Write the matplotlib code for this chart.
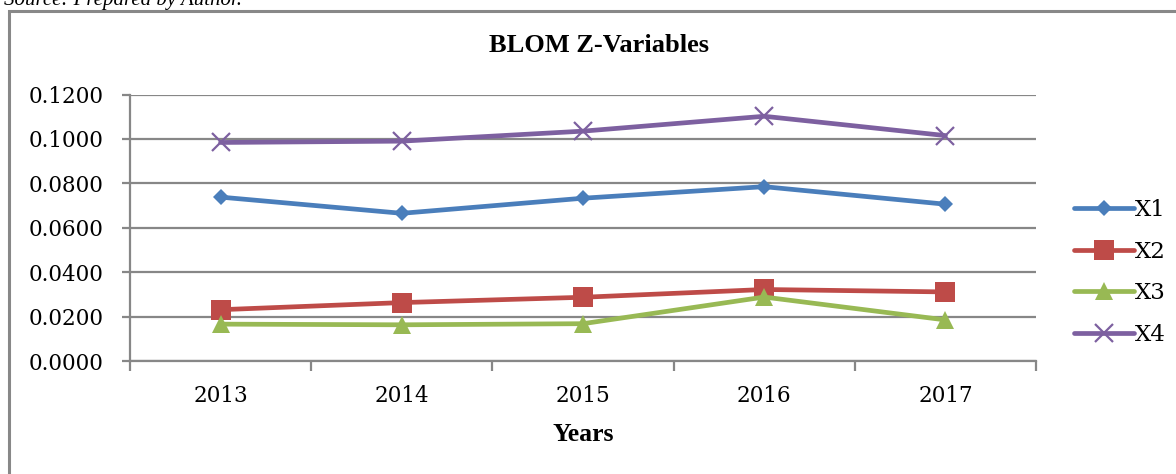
import matplotlib
matplotlib.use("Agg")
import matplotlib.pyplot as plt
from matplotlib.patches import Rectangle
from matplotlib.ticker import FixedLocator, FuncFormatter
import numpy as np

years = ["2013", "2014", "2015", "2016", "2017"]
x1 = [0.0738, 0.0665, 0.0733, 0.0785, 0.0706]
x2 = [0.0231, 0.0263, 0.0287, 0.0322, 0.0311]
x3 = [0.0166, 0.0163, 0.0168, 0.0288, 0.0185]
x4 = [0.0984, 0.0990, 0.1035, 0.1102, 0.1015]
series_names = ["X1", "X2", "X3", "X4"]
y_ticks = [0.0, 0.02, 0.04, 0.06, 0.08, 0.10, 0.12]

colors = ["#4A7EBB", "#BE4B48", "#98B954", "#7D60A0"]
markers = ["D", "s", "^", "x"]
msizes = [8.5, 14, 13, 13]
grid_c = "#878787"

W, H = 1176, 474
fig = plt.figure(figsize=(W / 100, H / 100), dpi=100)
ax = fig.add_axes([130 / W, 1 - 361 / H, (1036 - 130) / W, (361 - 94.5) / H])

xpos = np.arange(len(years))
handles = []
for vals, name, c, m, ms in zip([x1, x2, x3, x4], series_names, colors, markers, msizes):
    mew = 1.6 if m == "x" else 0
    h, = ax.plot(xpos, vals, color=c, lw=3.4, marker=m, markersize=ms,
                 markeredgewidth=mew, markeredgecolor=c, markerfacecolor=c,
                 label=name, solid_capstyle="round", zorder=3)
    handles.append(h)

ax.set_xlim(-0.5, len(years) - 0.5)
ax.set_ylim(0, 0.12)
ax.yaxis.set_major_locator(FixedLocator(y_ticks))
ax.yaxis.set_major_formatter(FuncFormatter(lambda v, p: f"{v:.4f}"))
ax.set_xticks(xpos)
ax.set_xticklabels(years)
ax.xaxis.set_minor_locator(FixedLocator(np.arange(-0.5, len(years), 1.0)))

ax.grid(axis="y", color=grid_c, lw=1.6, zorder=0)
ax.set_axisbelow(True)
for s in ["top", "right"]:
    ax.spines[s].set_visible(False)
for s in ["left", "bottom"]:
    ax.spines[s].set_color(grid_c)
    ax.spines[s].set_linewidth(1.6)

serif = ["DejaVu Serif"]
ax.tick_params(axis="x", which="major", length=0, pad=17, labelsize=15.5)
ax.tick_params(axis="x", which="minor", length=7, width=1.6, color=grid_c)
ax.tick_params(axis="y", length=6, width=1.6, color=grid_c, pad=13, labelsize=15.5)
for lab in ax.get_xticklabels() + ax.get_yticklabels():
    lab.set_family(serif)

ax.set_xlabel("Years", family=["Liberation Serif"], fontweight="bold", fontsize=18.5, labelpad=12)

fig.text(599 / W, 1 - 46 / H, "BLOM Z-Variables", family=["Liberation Serif"],
         fontweight="bold", fontsize=19, ha="center", va="center")

fig.legend(handles=handles, labels=series_names, loc="center left",
           bbox_to_anchor=(1074 / W, 1 - 272.5 / H), frameon=False,
           prop={"family": "DejaVu Serif", "size": 16.5},
           handlelength=2.6, handletextpad=0.05, labelspacing=0.85,
           borderpad=0, borderaxespad=0)

fig.text(4 / W, 1 - 5 / H, "Source: Prepared by Author.", family=["Liberation Serif"],
         style="italic", fontsize=15, ha="left", va="baseline")

fig.add_artist(Rectangle((9 / W, -0.1), 1.2, 1.1 - 11 / H, transform=fig.transFigure,
                         fill=False, edgecolor="#888888", lw=2.2))

fig.savefig("out.png", dpi=100)
